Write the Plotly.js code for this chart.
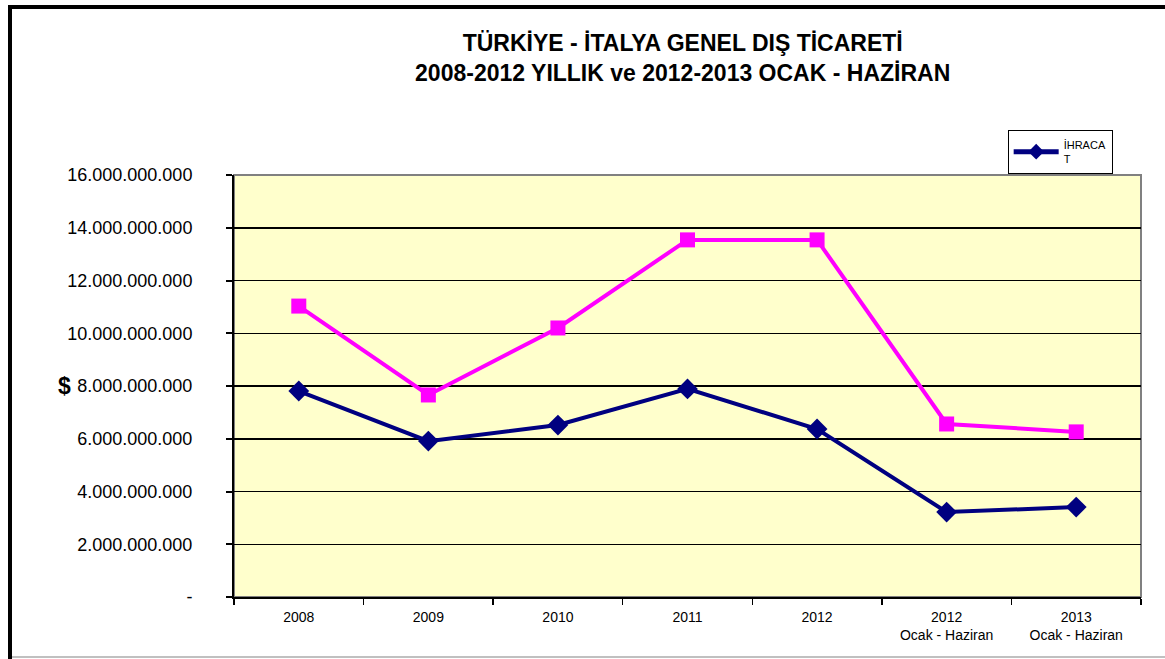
<!DOCTYPE html>
<html>
<head>
<meta charset="utf-8">
<script src="https://cdn.plot.ly/plotly-3.0.1.min.js"></script>
<style>
  html, body { margin: 0; padding: 0; background: #ffffff; overflow: hidden; }
  #wrap { position: relative; width: 1165px; height: 659px; }
  #chart { position: absolute; left: 0; top: 0; width: 1165px; height: 659px; }
  .frame { position: absolute; pointer-events: none; }
</style>
</head>
<body>
<div id="wrap">
  <div id="chart"></div>
  <div class="frame" style="left:8px; top:5px; width:4px; height:654px; background:#000;"></div>
  <div class="frame" style="left:8px; top:5px; width:1157px; height:4px; background:#000;"></div>
  <div class="frame" style="left:12px; top:656px; width:1153px; height:2px; background:#c0c0c0;"></div>
</div>
<script>
// ---- data ----
const categories = ["2008", "2009", "2010", "2011", "2012", "2012<br>Ocak - Haziran", "2013<br>Ocak - Haziran"];
const ihracat = [7.81e9, 5.91e9, 6.52e9, 7.89e9, 6.37e9, 3.22e9, 3.41e9];
const ithalat = [11.03e9, 7.66e9, 10.2e9, 13.54e9, 13.54e9, 6.56e9, 6.26e9];
const yTickVals = [0, 2e9, 4e9, 6e9, 8e9, 10e9, 12e9, 14e9, 16e9];
const yTickText = ["-", "2.000.000.000", "4.000.000.000", "6.000.000.000", "8.000.000.000",
                   "10.000.000.000", "12.000.000.000", "14.000.000.000", "16.000.000.000"];
const titleText = "TÜRKİYE - İTALYA GENEL DIŞ TİCARETİ<br>2008-2012 YILLIK ve 2012-2013 OCAK - HAZİRAN";

const FONT = "Liberation Sans, Arial, sans-serif";

const traces = [
  {
    x: categories, y: ithalat, type: "scatter", mode: "lines+markers",
    name: "İTHALAT", showlegend: false,
    line: { color: "#FF00FF", width: 4 },
    marker: { symbol: "square", size: 15, color: "#FF00FF" },
    hoverinfo: "skip"
  },
  {
    x: categories, y: ihracat, type: "scatter", mode: "lines+markers",
    name: "İHRACA<br>T",
    line: { color: "#000080", width: 4 },
    marker: { symbol: "diamond", size: 16, color: "#000080" },
    hoverinfo: "skip"
  }
];

const layout = {
  width: 1165, height: 659,
  margin: { l: 234, r: 24, t: 175, b: 62 },
  paper_bgcolor: "rgba(0,0,0,0)",
  plot_bgcolor: "#FFFFCC",
  font: { family: FONT, color: "#000" },
  title: {
    text: titleText,
    font: { family: FONT, size: 23, color: "#000", weight: "bold" },
    x: 0.586, xanchor: "center", y: 0.923, yanchor: "top"
  },
  showlegend: true,
  legend: {
    x: 0.853, y: 1.107, xanchor: "left", yanchor: "top",
    bgcolor: "#ffffff", bordercolor: "#000", borderwidth: 1,
    font: { family: FONT, size: 11, color: "#000" },
    itemwidth: 45, tracegroupgap: 0, itemsizing: "constant"
  },
  xaxis: {
    type: "category", range: [-0.5, 6.5],
    showline: true, linecolor: "#000", linewidth: 2,
    ticks: "outside", tickson: "boundaries", ticklen: 6, tickwidth: 1.5, tickcolor: "#000",
    ticklabelstandoff: 6,
    showgrid: false, zeroline: false,
    tickfont: { family: FONT, size: 14, color: "#000" }
  },
  yaxis: {
    range: [0, 16e9],
    tickvals: yTickVals, ticktext: yTickText,
    showline: true, linecolor: "#000", linewidth: 2,
    ticks: "outside", ticklen: 6, tickwidth: 2, tickcolor: "#000",
    ticklabelstandoff: 30,
    showgrid: true, gridcolor: "#000", gridwidth: 1.5,
    zeroline: false,
    tickfont: { family: FONT, size: 18, color: "#000" }
  },
  shapes: [
    { type: "rect", xref: "paper", yref: "paper", x0: 0, x1: 1, y0: 0, y1: 1,
      line: { color: "#808080", width: 2 }, layer: "below" }
  ],
  annotations: [
    { text: "$", xref: "paper", yref: "y", x: -0.187, y: 8e9, xanchor: "center", yanchor: "middle",
      showarrow: false, font: { family: FONT, size: 23, color: "#000", weight: "bold" } }
  ]
};

Plotly.newPlot("chart", traces, layout, { displayModeBar: false, staticPlot: true });
</script>
</body>
</html>
